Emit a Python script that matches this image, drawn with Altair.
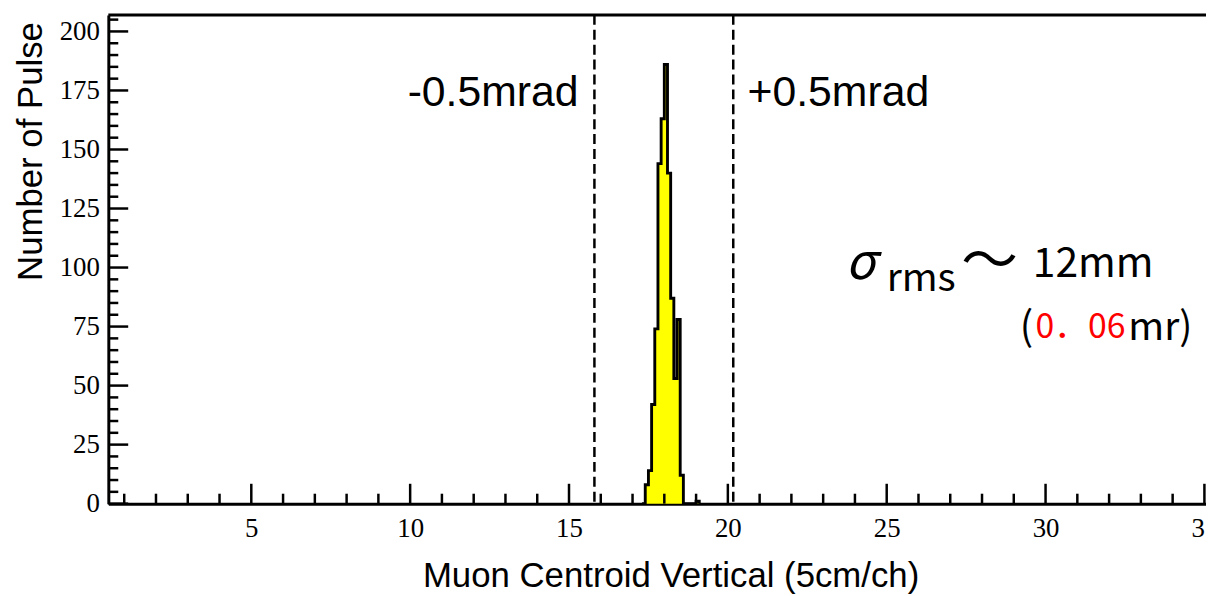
import altair as alt
import pandas as pd

# ---- data ----
bin_start = [17.3, 17.4, 17.5, 17.6, 17.7, 17.8, 17.9, 18.0, 18.1, 18.2,
             18.3, 18.4, 18.5, 18.6, 18.7, 18.8, 18.9, 19.0, 19.1]
counts = [0, 8, 14, 42, 74, 144, 163, 186, 140, 87,
          53, 78, 12, 0, 0, 0, 0, 1, 0]
cut_lines = [15.8, 20.17]
x_tick_values = [5, 10, 15, 20, 25, 30, 35]
y_tick_values = [0, 25, 50, 75, 100, 125, 150, 175, 200]
x_minor_values = [v for v in range(1, 36) if v % 5]
y_minor_values = [v for v in range(5, 210, 5) if v % 25]

mrad_text = ["-0.5mrad", "+0.5mrad"]
mrad_x = [15.30, 20.62]
mrad_y = [174, 174]

X_DOMAIN = [0.5, 35.05]
Y_DOMAIN = [0, 207]
W, H = 1105, 492

xs = alt.Scale(domain=X_DOMAIN, nice=False, zero=False)
ys = alt.Scale(domain=Y_DOMAIN, nice=False, zero=False)

xaxis = alt.Axis(values=x_tick_values, ticks=False, grid=False,
                 domainColor="black", domainWidth=3,
                 labelFont="Liberation Serif", labelFontSize=27, labelColor="black",
                 labelPadding=12, labelFlush=False, labelOverlap=False, labelBound=False,
                 title="Muon Centroid Vertical (5cm/ch)", titleFont="Liberation Sans",
                 titleFontSize=35, titleFontWeight="normal", titleColor="black",
                 titleX=566, titleY=83, titleAlign="center", titleBaseline="alphabetic")
yaxis = alt.Axis(values=y_tick_values, ticks=False, grid=False,
                 domainColor="black", domainWidth=3,
                 labelFont="Liberation Serif", labelFontSize=27, labelColor="black",
                 labelPadding=9, labelFlush=False, labelOverlap=False, labelBound=False,
                 title="Number of Pulse", titleFont="Liberation Sans",
                 titleFontSize=35, titleFontWeight="normal", titleColor="black",
                 titleX=-67, titleY=137, titleAlign="center", titleBaseline="alphabetic",
                 titleAngle=270)

X = alt.X("x:Q", scale=xs, axis=xaxis)
Y = alt.Y("n:Q", scale=ys, axis=yaxis)

hist = pd.DataFrame({"x": bin_start, "n": counts})

area = alt.Chart(hist).mark_area(interpolate="step-after", color="#ffff00").encode(x=X, y=Y)
outline = alt.Chart(hist).mark_line(interpolate="step-after", color="black",
                                    strokeWidth=2.9).encode(x=X, y=Y)

cuts = alt.Chart(pd.DataFrame({"x": cut_lines})).mark_rule(
    color="black", strokeWidth=2.5, strokeDash=[10, 5]).encode(x=X)

xmaj = alt.Chart(pd.DataFrame({"x": x_tick_values})).mark_rule(
    color="black", strokeWidth=2.5).encode(x=X, y=alt.value(H), y2=alt.value(H - 20))
xmin = alt.Chart(pd.DataFrame({"x": x_minor_values})).mark_rule(
    color="black", strokeWidth=2.5).encode(x=X, y=alt.value(H), y2=alt.value(H - 10))
ymaj = alt.Chart(pd.DataFrame({"n": y_tick_values})).mark_rule(
    color="black", strokeWidth=2.5).encode(y=Y, x=alt.value(0), x2=alt.value(20))
ymin = alt.Chart(pd.DataFrame({"n": y_minor_values})).mark_rule(
    color="black", strokeWidth=2.5).encode(y=Y, x=alt.value(0), x2=alt.value(10))
top = alt.Chart(pd.DataFrame({"x": [0]})).mark_rule(
    color="black", strokeWidth=3).encode(x=alt.value(0), x2=alt.value(W), y=alt.value(0))

mrad_df = pd.DataFrame({"x": mrad_x, "n": mrad_y, "t": mrad_text})
mrad_left = alt.Chart(mrad_df.iloc[[0]]).mark_text(
    font="Liberation Sans", fontSize=43, align="right", baseline="middle", color="black"
).encode(x=X, y=Y, text="t:N")
mrad_right = alt.Chart(mrad_df.iloc[[1]]).mark_text(
    font="Liberation Sans", fontSize=43, align="left", baseline="middle", color="black"
).encode(x=X, y=Y, text="t:N")

CJK = "Noto Sans CJK JP"

def label(txt, x, y, size, color="black", baseline="alphabetic", align="left", style="normal"):
    df = pd.DataFrame({"x": [x], "n": [y], "t": [txt]})
    return alt.Chart(df).mark_text(font=CJK, fontSize=size, align=align, fontStyle=style,
                                   baseline=baseline, color=color).encode(x=X, y=Y, text="t:N")

sigma = label("σ", 23.70, 95.0, 50, style="italic")
rms = label("rms", 25.0, 90.0, 39)
tilde = label("〜", 27.35, 102, 57, baseline="middle")
mm = label("12mm", 29.60, 96, 41)
par_open = label("(", 29.19, 69.5, 40)
val = label("0．06", 29.68, 70.3, 34, color="#ff0000")
mr = label("mr)", 34.62, 69.5, 39, align="right")

chart = alt.layer(
    area, outline, cuts, xmaj, xmin, ymaj, ymin, top,
    mrad_left, mrad_right, sigma, rms, tilde, mm, par_open, val, mr
).properties(
    width=W, height=H,
    autosize=alt.AutoSizeParams(type="none"),
    padding={"left": 101, "top": 5, "right": 0, "bottom": 89},
    background="white",
).configure_view(stroke=None)

chart.save("out.html", embed_options={"renderer": "svg", "actions": False})
